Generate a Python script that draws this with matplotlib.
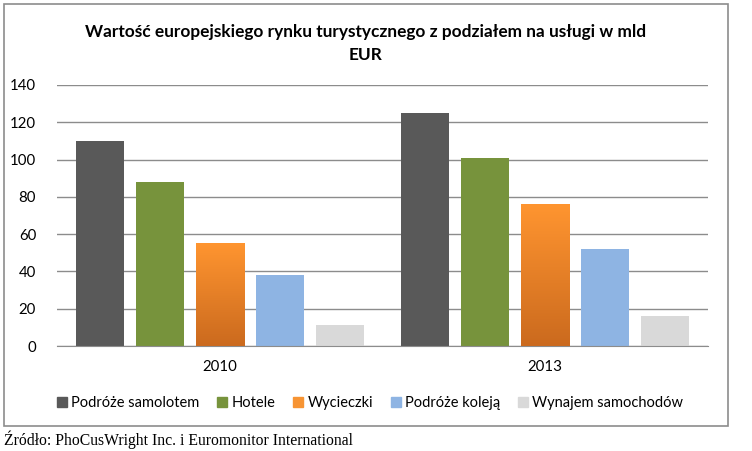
import matplotlib
matplotlib.use("Agg")
import matplotlib.pyplot as plt
import matplotlib.patches as mpatches
import numpy as np
from matplotlib.colors import LinearSegmentedColormap

years = ["2010", "2013"]
series = ["Podróże samolotem", "Hotele", "Wycieczki", "Podróże koleją", "Wynajem samochodów"]
values = {
    "Podróże samolotem": [110, 125],
    "Hotele": [88, 101],
    "Wycieczki": [55, 76],
    "Podróże koleją": [38, 52],
    "Wynajem samochodów": [11, 16],
}
colors = ["#595959", "#77933C", "#F79433", "#8EB4E3", "#D9D9D9"]

plt.rcParams['font.family'] = ['Lato', 'DejaVu Sans']

fig = plt.figure(figsize=(7.52, 4.51), dpi=100)
W, H = 752, 451

# outer frame of the chart
frame = mpatches.Rectangle((4 / W, 1 - 426 / H), 724 / W, 422 / H, transform=fig.transFigure,
                           fill=False, edgecolor="#8c8c8c", linewidth=1.2)
fig.patches.append(frame)

ax = fig.add_axes([57 / W, 1 - 346 / H, 651 / W, 261 / H])
ax.set_xlim(-0.5, 1.5)
ax.set_ylim(0, 140)
ax.set_yticks(range(0, 141, 20))
ax.yaxis.grid(True, color="#8c8c8c", linewidth=1)
ax.set_axisbelow(True)
for s in ["top", "right", "left"]:
    ax.spines[s].set_visible(False)
ax.spines["bottom"].set_color("#8c8c8c")
ax.tick_params(axis="both", length=0, labelsize=10.8, colors="#000000")
ax.tick_params(axis="y", pad=15)
ax.tick_params(axis="x", pad=10)

x = np.arange(len(years))
bw = 0.148
step = 0.1845
orange_cmap = LinearSegmentedColormap.from_list("or", ["#CB6A1E", "#FF9530"])
for i, name in enumerate(series):
    xs = x + (i - 2) * step
    bars = ax.bar(xs, values[name], width=bw, color=colors[i], label=name, zorder=2)
    if name == "Wycieczki":
        for b in bars:
            grad = np.linspace(0, 1, 256).reshape(-1, 1)
            im = ax.imshow(grad, cmap=orange_cmap, origin="lower", aspect="auto",
                           extent=[b.get_x(), b.get_x() + b.get_width(), 0, b.get_height()],
                           zorder=3)
            im.set_clip_path(b)

ax.set_xticks(x)
ax.set_xticklabels(years)

fig.text(366 / W, 1 - 32 / H, "Wartość europejskiego rynku turystycznego z podziałem na usługi w mld",
         ha="center", va="center", fontsize=12.4, fontweight="bold")
fig.text(366 / W, 1 - 55 / H, "EUR", ha="center", va="center", fontsize=12.4, fontweight="bold")

handles = [mpatches.Patch(color=c) for c in colors]
fig.legend(handles, series, loc="center", bbox_to_anchor=(370 / W, 1 - 403 / H), ncol=5,
           frameon=False, fontsize=10.5, handlelength=0.7, handleheight=0.7,
           handletextpad=0.3, columnspacing=1.2)

fig.text(4 / W, 1 - 440 / H, "Źródło: PhoCusWright Inc. i Euromonitor International",
         ha="left", va="center", fontsize=11.3, family=["Liberation Serif", "DejaVu Serif"])

fig.savefig("out.png", dpi=100)
